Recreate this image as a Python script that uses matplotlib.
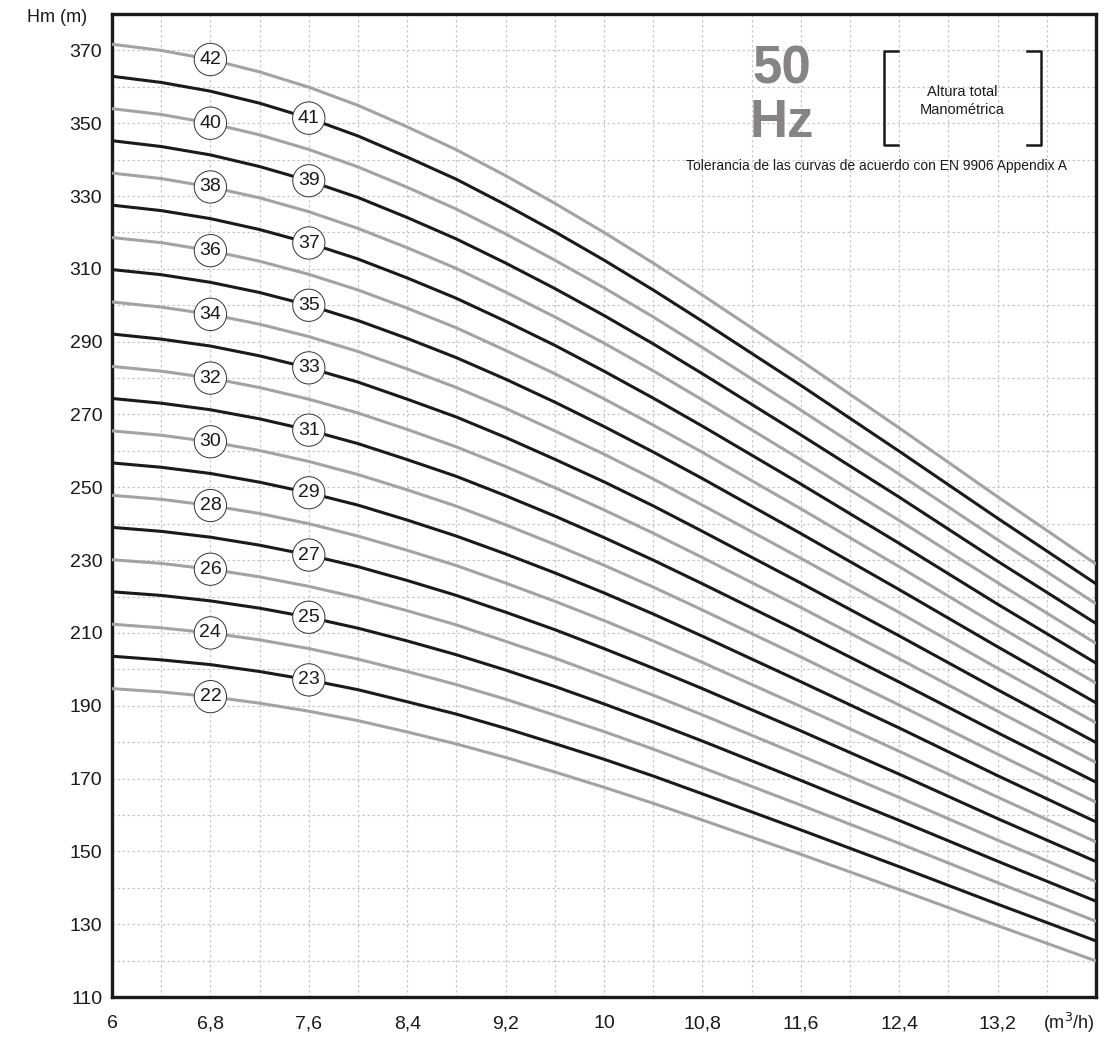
import numpy as np
import matplotlib.pyplot as plt
from matplotlib.lines import Line2D

plt.rcParams['font.family'] = ['Liberation Sans', 'DejaVu Sans']

# Caudal (m3/h) en el que se han leido las curvas
flow = [6.0, 6.4, 6.8, 7.2, 7.6, 8.0, 8.4, 8.8, 9.2, 9.6, 10.0, 10.4, 10.8, 11.6, 12.4, 13.2, 14.0]

# Altura manometrica (m) de cada bomba, por numero de etapas
head_22 = [194.7, 193.8, 192.5, 190.7, 188.5, 185.9, 182.8, 179.5, 175.8, 171.8, 167.6, 163.2, 158.6, 149.2, 139.5, 129.6, 119.9]
head_23 = [203.6, 202.6, 201.3, 199.4, 197.1, 194.4, 191.1, 187.7, 183.8, 179.6, 175.3, 170.7, 165.8, 155.9, 145.8, 135.5, 125.4]
head_24 = [212.4, 211.4, 210.0, 208.1, 205.7, 202.8, 199.4, 195.8, 191.8, 187.4, 182.9, 178.1, 173.0, 162.7, 152.2, 141.4, 130.8]
head_25 = [221.3, 220.3, 218.8, 216.8, 214.3, 211.3, 207.8, 204.0, 199.8, 195.3, 190.5, 185.5, 180.3, 169.5, 158.5, 147.3, 136.3]
head_26 = [230.1, 229.1, 227.5, 225.4, 222.8, 219.7, 216.1, 212.2, 207.7, 203.1, 198.1, 192.9, 187.5, 176.3, 164.8, 153.1, 141.7]
head_27 = [239.0, 237.9, 236.3, 234.1, 231.4, 228.2, 224.4, 220.3, 215.7, 210.9, 205.7, 200.3, 194.7, 183.1, 171.2, 159.0, 147.2]
head_28 = [247.8, 246.7, 245.0, 242.8, 240.0, 236.6, 232.7, 228.5, 223.7, 218.7, 213.4, 207.8, 201.9, 189.8, 177.5, 164.9, 152.6]
head_29 = [256.7, 255.5, 253.8, 251.4, 248.5, 245.1, 241.0, 236.6, 231.7, 226.5, 221.0, 215.2, 209.1, 196.6, 183.9, 170.8, 158.1]
head_30 = [265.5, 264.3, 262.5, 260.1, 257.1, 253.5, 249.3, 244.8, 239.7, 234.3, 228.6, 222.6, 216.3, 203.4, 190.2, 176.7, 163.5]
head_31 = [274.4, 273.1, 271.3, 268.8, 265.7, 262.0, 257.6, 253.0, 247.7, 242.1, 236.2, 230.0, 223.5, 210.2, 196.5, 182.6, 169.0]
head_32 = [283.2, 281.9, 280.0, 277.4, 274.2, 270.4, 265.9, 261.1, 255.7, 249.9, 243.8, 237.4, 230.7, 217.0, 202.9, 188.5, 174.4]
head_33 = [292.1, 290.7, 288.8, 286.1, 282.8, 278.9, 274.2, 269.3, 263.7, 257.7, 251.5, 244.9, 237.9, 223.7, 209.2, 194.4, 179.9]
head_34 = [300.9, 299.5, 297.5, 294.8, 291.4, 287.3, 282.5, 277.4, 271.7, 265.5, 259.1, 252.3, 245.1, 230.5, 215.6, 200.3, 185.3]
head_35 = [309.8, 308.4, 306.3, 303.5, 300.0, 295.8, 290.9, 285.6, 279.7, 273.4, 266.7, 259.7, 252.4, 237.3, 221.9, 206.2, 190.8]
head_36 = [318.6, 317.2, 315.0, 312.1, 308.5, 304.2, 299.2, 293.8, 287.6, 281.2, 274.3, 267.1, 259.6, 244.1, 228.2, 212.0, 196.2]
head_37 = [327.5, 326.0, 323.8, 320.8, 317.1, 312.7, 307.5, 301.9, 295.6, 289.0, 281.9, 274.5, 266.8, 250.9, 234.6, 217.9, 201.7]
head_38 = [336.3, 334.8, 332.5, 329.5, 325.7, 321.1, 315.8, 310.1, 303.6, 296.8, 289.6, 282.0, 274.0, 257.6, 240.9, 223.8, 207.1]
head_39 = [345.2, 343.6, 341.3, 338.1, 334.2, 329.6, 324.1, 318.2, 311.6, 304.6, 297.2, 289.4, 281.2, 264.4, 247.3, 229.7, 212.6]
head_40 = [354.0, 352.4, 350.0, 346.8, 342.8, 338.0, 332.4, 326.4, 319.6, 312.4, 304.8, 296.8, 288.4, 271.2, 253.6, 235.6, 218.0]
head_41 = [362.9, 361.2, 358.8, 355.5, 351.4, 346.5, 340.7, 334.6, 327.6, 320.2, 312.4, 304.2, 295.6, 278.0, 259.9, 241.5, 223.5]
head_42 = [371.7, 370.0, 367.5, 364.1, 359.9, 354.9, 349.0, 342.7, 335.6, 328.0, 320.0, 311.6, 302.8, 284.8, 266.3, 247.4, 228.9]

stages = list(range(22, 43))
curves = [head_22, head_23, head_24, head_25, head_26, head_27, head_28,
          head_29, head_30, head_31, head_32, head_33, head_34, head_35,
          head_36, head_37, head_38, head_39, head_40, head_41, head_42]

# caudal donde va la etiqueta: pares en 6,8 e impares en 7,6
label_flow_even = 6.8
label_flow_odd = 7.6

x_ticks = [6, 6.8, 7.6, 8.4, 9.2, 10, 10.8, 11.6, 12.4, 13.2]
x_labels = ['6', '6,8', '7,6', '8,4', '9,2', '10', '10,8', '11,6', '12,4', '13,2']
y_ticks = [110, 130, 150, 170, 190, 210, 230, 250, 270, 290, 310, 330, 350, 370]

W, H = 1107, 1041
GRAY = '#a3a3a3'
BLACK = '#1a1a1a'


def fx(px):
    return px / W


def fy(py):
    return 1 - py / H


fig = plt.figure(figsize=(W / 100, H / 100), dpi=100)
ax = fig.add_axes([fx(112), fy(997), (1096 - 112) / W, (997 - 14) / H])
ax.set_xlim(6, 14)
ax.set_ylim(110, 380)

# rejilla
ax.set_xticks(x_ticks)
ax.set_xticklabels(x_labels)
ax.set_xticks(np.arange(6.4, 14, 0.8), minor=True)
ax.set_yticks(y_ticks)
ax.set_yticks(np.arange(120, 380, 20), minor=True)
ax.grid(which='both', color='#c9c9c9', linestyle=(0, (2, 2)), linewidth=0.9)
ax.set_axisbelow(True)
ax.tick_params(which='both', length=0)
ax.tick_params(axis='y', labelsize=14, pad=7, colors=BLACK)
ax.tick_params(axis='x', labelsize=14, pad=13, colors=BLACK)
for s in ax.spines.values():
    s.set_linewidth(2.4)
    s.set_color(BLACK)

# curvas
for n, h in zip(stages, curves):
    color = GRAY if n % 2 == 0 else BLACK
    ax.plot(flow, h, color=color, lw=2.2, solid_capstyle='butt', zorder=3)
    q = label_flow_even if n % 2 == 0 else label_flow_odd
    i = flow.index(q)
    ax.text(q, h[i], str(n), fontsize=14, ha='center', va='center',
            color=BLACK, zorder=5,
            bbox=dict(boxstyle='circle,pad=0.27', fc='white', ec='#333333', lw=0.7))

# textos
fig.text(fx(27), fy(17), 'Hm (m)', fontsize=13, ha='left', va='center', color=BLACK)
fig.text(fx(1095), fy(1023), '(m$^3$/h)', fontsize=13, ha='right', va='center', color=BLACK)

fig.text(fx(782), fy(69), '50', fontsize=38, fontweight='bold', color='#858383',
         ha='center', va='center')
fig.text(fx(782), fy(123), 'Hz', fontsize=38, fontweight='bold', color='#858383',
         ha='center', va='center')

# corchetes
for xv, xe in [(884, 898), (1041, 1027)]:
    fig.add_artist(Line2D([fx(xe), fx(xv), fx(xv), fx(xe)],
                          [fy(51), fy(51), fy(145), fy(145)],
                          color=BLACK, lw=1.8))
fig.text(fx(962), fy(92), 'Altura total', fontsize=10.5, ha='center', va='center', color=BLACK)
fig.text(fx(962), fy(110), 'Manométrica', fontsize=10.5, ha='center', va='center', color=BLACK)
fig.text(fx(877), fy(166), 'Tolerancia de las curvas de acuerdo con EN 9906 Appendix A',
         fontsize=10, ha='center', va='center', color=BLACK)

fig.savefig('out.png', dpi=100)
